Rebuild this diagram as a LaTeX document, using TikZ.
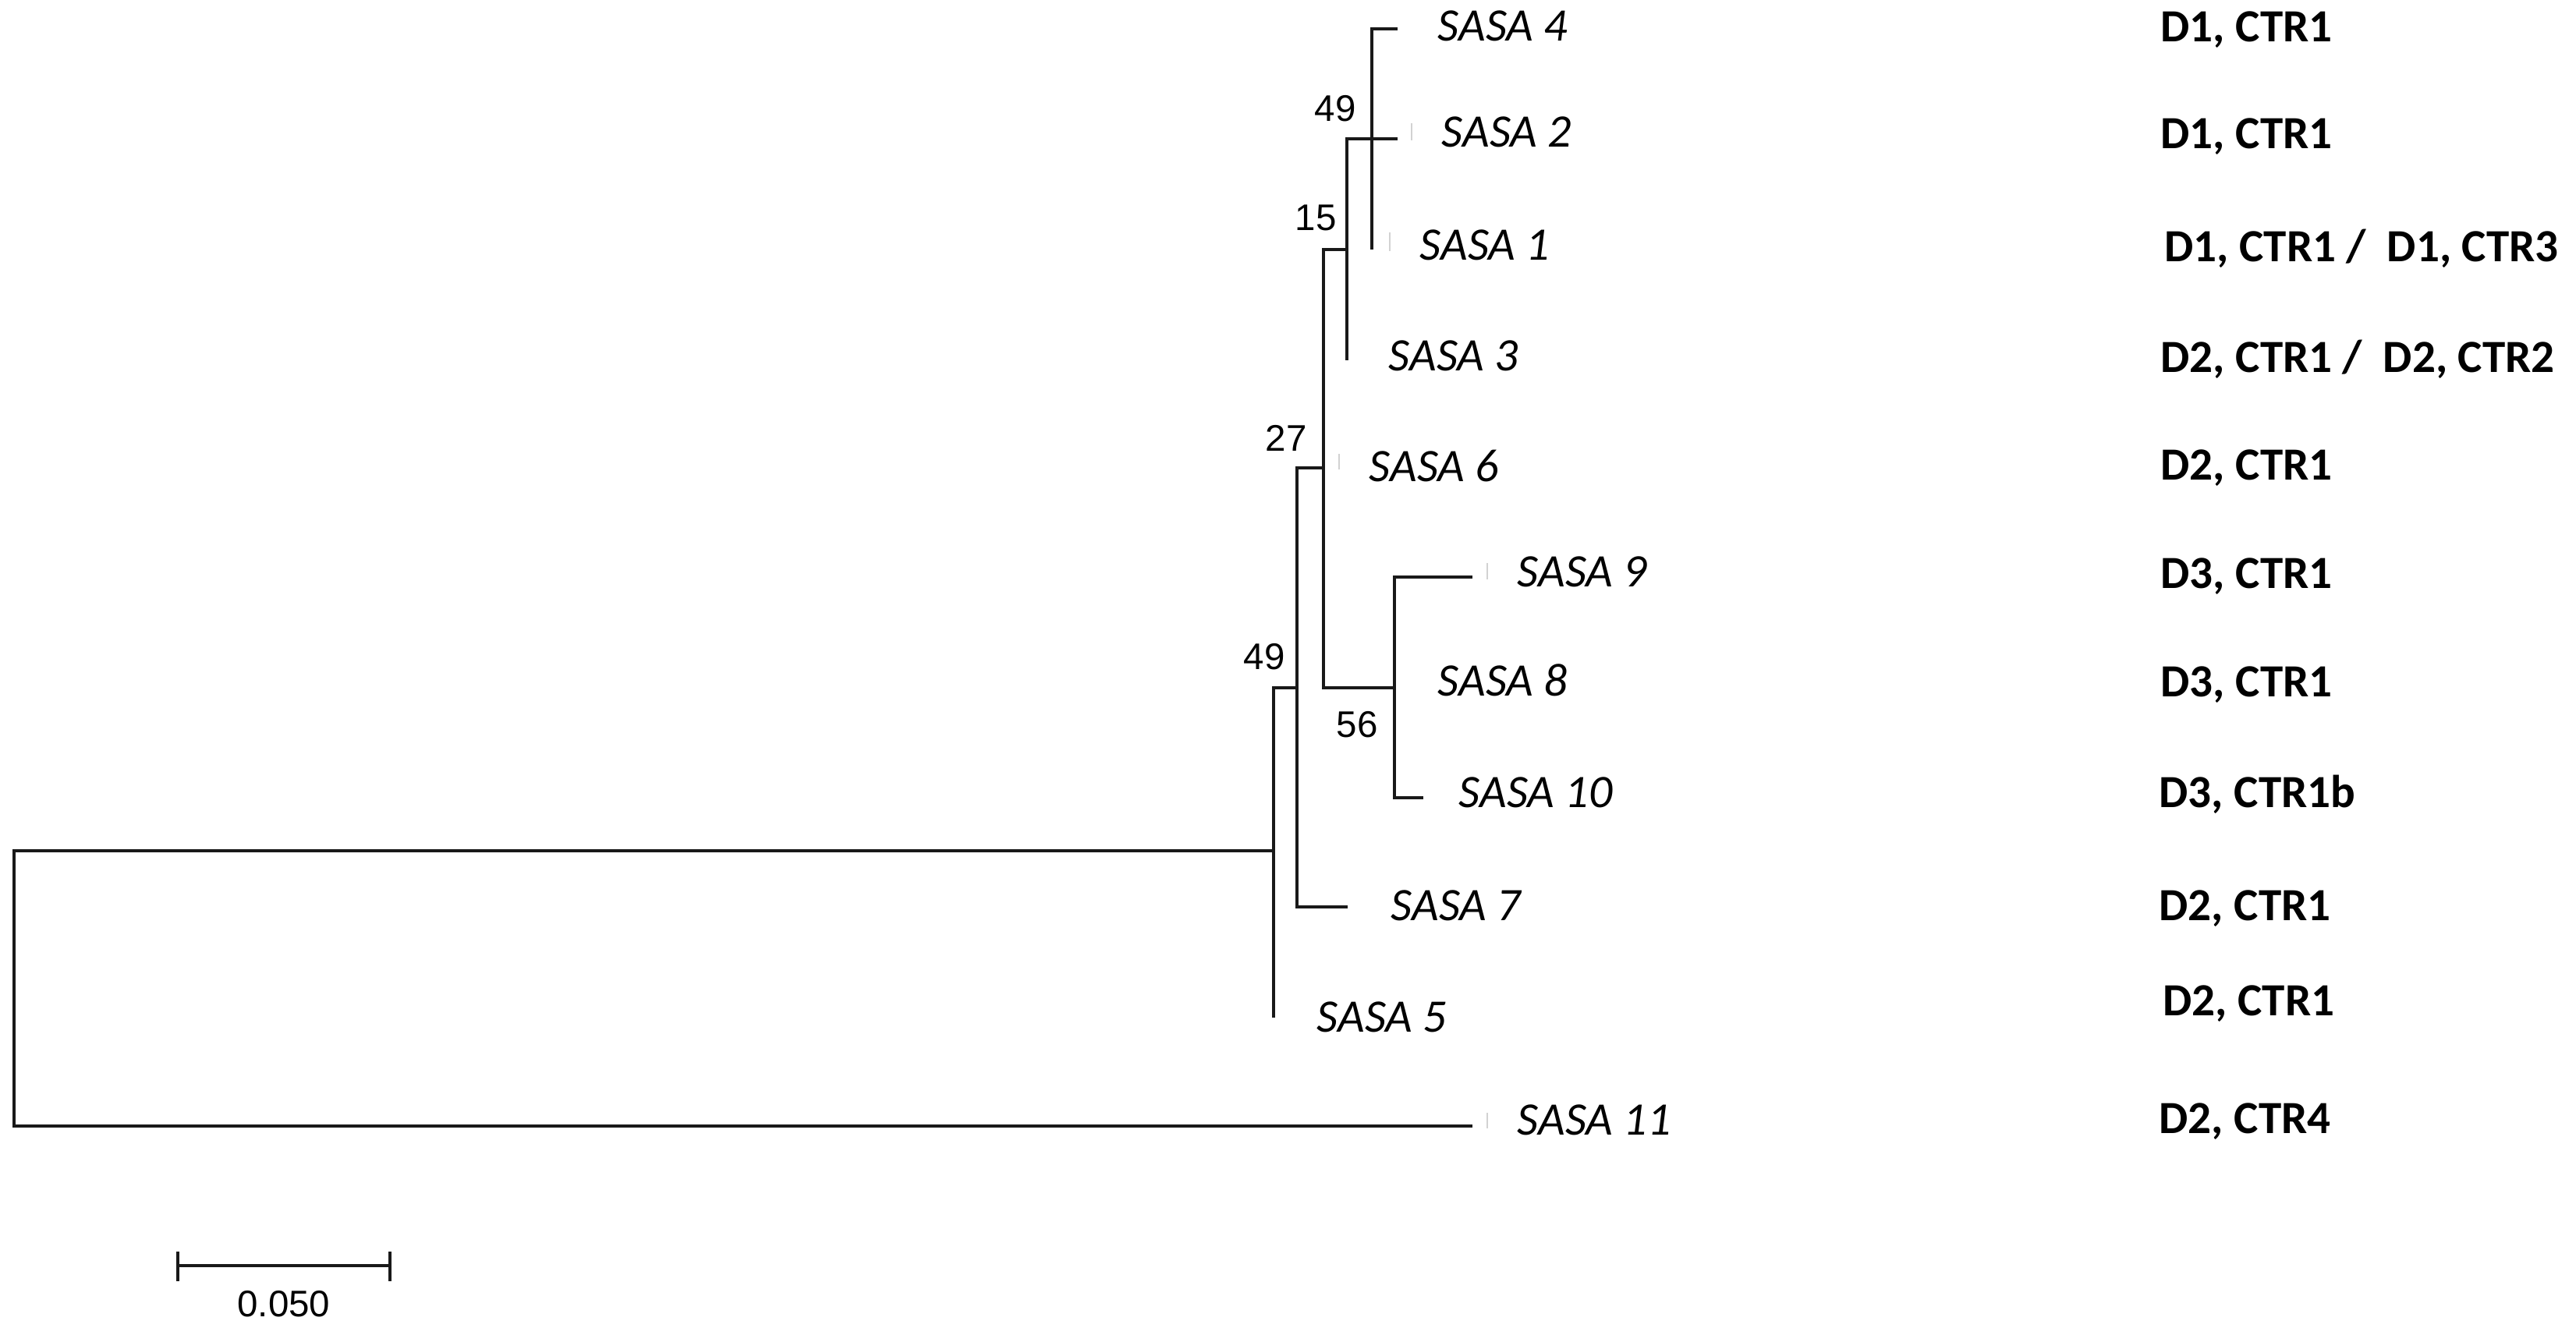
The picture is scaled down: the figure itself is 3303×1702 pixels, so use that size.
\documentclass[tikz,border=0pt]{standalone}
\usepackage{fontspec}
\setmainfont{Carlito}
\newfontfamily\bootfont{Liberation Sans}

\begin{document}
\begin{tikzpicture}[x=0.01cm,y=-0.01cm,
      branch/.style={line width=1.2pt,line join=miter,draw=black!90},
      taxon/.style={anchor=base west,inner sep=0pt,font=\fontsize{17}{20}\selectfont\itshape},
      site/.style={anchor=base west,inner sep=0pt,font=\fontsize{16.8}{20}\selectfont\bfseries},
      boot/.style={anchor=base west,inner sep=0pt,font=\bootfont\fontsize{13.5}{16}\selectfont},
      leafmark/.style={draw=gray!35,line width=0.3pt}]
    \useasboundingbox (0,0) rectangle (3303,1702);
    % internal nodes
    \coordinate (root) at (18,1267);
    \coordinate (nbase) at (1633,1091);
    \coordinate (n49b) at (1663,882);
    \coordinate (n27) at (1697,600);
    \coordinate (n15) at (1727,320);
    \coordinate (n49a) at (1759,178);
    \coordinate (n56) at (1788,882);
    % leaf tips
    \coordinate (t4) at (1792,37);
    \coordinate (t2) at (1792,178);
    \coordinate (t1) at (1759,320);
    \coordinate (t3) at (1727,462);
    \coordinate (t6) at (1697,600);
    \coordinate (t9) at (1888,740);
    \coordinate (t8) at (1788,882);
    \coordinate (t10) at (1825,1023);
    \coordinate (t7) at (1728,1163);
    \coordinate (t5) at (1633,1305);
    \coordinate (t11) at (1888,1444);
    % branches
    \draw[branch] (n49a) |- (t4) (n49a) -- (t2) (n49a) -- (t1);
    \draw[branch] (n15) |- (n49a) (n15) -- (t3);
    \draw[branch] (n27) |- (n15) (n27) |- (n56);
    \draw[branch] (n56) |- (t9) (n56) |- (t10);
    \draw[branch] (n49b) |- (n27) (n49b) |- (t7);
    \draw[branch] (nbase) |- (n49b) (nbase) -- (t5);
    \draw[branch] (root) |- (nbase) (root) |- (t11);
    \draw[leafmark] (1810,158) -- ++(0,22);
    \draw[leafmark] (1782,298) -- ++(0,24);
    \draw[leafmark] (1717,582) -- ++(0,20);
    \draw[leafmark] (1907,722) -- ++(0,21);
    \draw[leafmark] (1907,1427) -- ++(0,20);
    % bootstrap values
    \node[boot] (b49a) at (1685,155) {49};
    \node[boot] (b15) at (1660,295) {15};
    \node[boot] (b27) at (1622,578) {27};
    \node[boot] (b49b) at (1594,858) {49};
    \node[boot] (b56) at (1713,945) {56};
    % taxa
    \node[taxon] (l4) at (1843,52) {SASA 4};
    \node[taxon] (l2) at (1848,188) {SASA 2};
    \node[taxon] (l1) at (1820,333) {SASA 1};
    \node[taxon] (l3) at (1780,475) {SASA 3};
    \node[taxon] (l6) at (1755,617) {SASA 6};
    \node[taxon] (l9) at (1945,752) {SASA 9};
    \node[taxon] (l8) at (1843,892) {SASA 8};
    \node[taxon] (l10) at (1870,1035) {SASA 10};
    \node[taxon] (l7) at (1783,1180) {SASA 7};
    \node[taxon] (l5) at (1688,1323) {SASA 5};
    \node[taxon] (l11) at (1945,1455) {SASA 11};
    % sites
    \node[site] (c4) at (2770,53) {D1, CTR1};
    \node[site] (c2) at (2770,190) {D1, CTR1};
    \node[site] (c1) at (2775,335) {D1, CTR1 /\ \ D1, CTR3};
    \node[site] (c3) at (2770,477) {D2, CTR1 /\ \ D2, CTR2};
    \node[site] (c6) at (2770,615) {D2, CTR1};
    \node[site] (c9) at (2770,754) {D3, CTR1};
    \node[site] (c8) at (2770,893) {D3, CTR1};
    \node[site] (c10) at (2768,1035) {D3, CTR1b};
    \node[site] (c7) at (2768,1180) {D2, CTR1};
    \node[site] (c5) at (2773,1302) {D2, CTR1};
    \node[site] (c11) at (2768,1453) {D2, CTR4};
    % scale bar
    \coordinate (sbl) at (228,1623);
    \coordinate (sbr) at (500,1623);
    \draw[branch] (sbl) -- (sbr);
    \draw[branch] ([yshift=0.18cm]sbl) -- ([yshift=-0.2cm]sbl);
    \draw[branch] ([yshift=0.18cm]sbr) -- ([yshift=-0.2cm]sbr);
    \node[boot,anchor=base] (sbar) at (364,1688) {0.050};
\end{tikzpicture}
\end{document}
